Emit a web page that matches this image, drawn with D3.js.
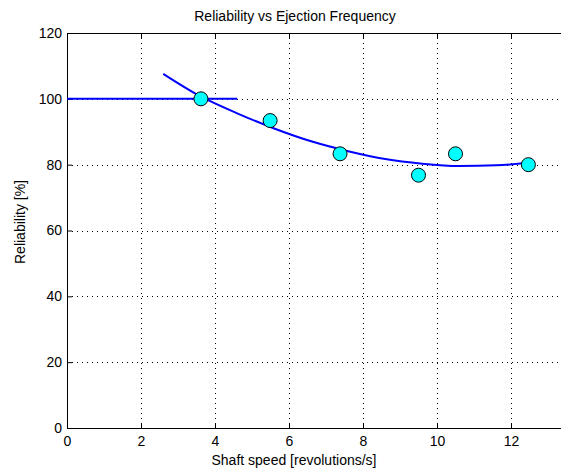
<!DOCTYPE html>
<html>
<head>
<meta charset="utf-8">
<script src="https://cdn.jsdelivr.net/npm/d3@7"></script>
<style>
  html, body { margin: 0; padding: 0; background: #fff; }
  svg { display: block; }
  text { font-family: "Liberation Sans", Arial, sans-serif; fill: #000; }
</style>
</head>
<body>
<svg id="chart" width="561" height="472"></svg>
<script>
// ---- data ----
const titleText = "Reliability vs Ejection Frequency";
const xLabel = "Shaft speed [revolutions/s]";
const yLabel = "Reliability [%]";

const xTicks = [0, 2, 4, 6, 8, 10, 12];
const yTicks = [0, 20, 40, 60, 80, 100, 120];

// measured points (shaft speed, reliability)
const speeds = [3.62, 5.49, 7.38, 9.5, 10.5, 12.47];
const reliability = [100, 93.4, 83.3, 76.8, 83.3, 80];

// fitted trend curve
const curveX = [2.6, 3.6, 4.6, 5.6, 6.6, 7.6, 8.6, 9.6, 10.6, 11.6, 12.5];
const curveY = [107.6, 100.8, 95.6, 91.0, 87.1, 84.1, 81.7, 80.3, 79.6, 79.8, 80.6];

// horizontal reference line at 100 %
const refX = [0, 4.6];
const refY = [100, 100];

// ---- layout ----
const svg = d3.select("#chart");
const mLeft = 67, mTop = 33, mBottom = 428, rightEdge = 561;

const x = d3.scaleLinear().domain([0, 12]).range([mLeft, mLeft + 12 * 37]);
const y = d3.scaleLinear().domain([0, 120]).range([mBottom, mTop]);

const g = svg.append("g");

// grid (dotted)
const grid = g.append("g").attr("stroke", "#000").attr("stroke-width", 1)
  .attr("stroke-dasharray", "1,4").attr("fill", "none");
xTicks.filter(d => d > 0).forEach(d => {
  const px = Math.round(x(d)) + 0.5;
  grid.append("line").attr("x1", px).attr("x2", px).attr("y1", mTop).attr("y2", mBottom);
});
yTicks.filter(d => d > 0 && d < 120).forEach(d => {
  const py = Math.round(y(d)) + 0.5;
  grid.append("line").attr("x1", mLeft).attr("x2", rightEdge).attr("y1", py).attr("y2", py);
});

// axes via d3 axis generators (inward ticks)
const xAxisBottom = d3.axisBottom(x).tickValues(xTicks).tickSize(-5).tickPadding(8).tickFormat(d3.format("d"));
const xAxisTop = d3.axisTop(x).tickValues(xTicks).tickSize(-5).tickFormat("");
const yAxisLeft = d3.axisLeft(y).tickValues(yTicks).tickSize(-5).tickPadding(5).tickFormat(d3.format("d"));

function styleAxis(sel) {
  sel.select(".domain").remove();
  sel.selectAll(".tick line").attr("stroke", "#000");
  sel.selectAll(".tick text").attr("font-size", 14).attr("font-family", "Liberation Sans, Arial, sans-serif").attr("fill", "#000");
}

g.append("g").attr("transform", `translate(0,${mBottom})`).call(xAxisBottom).call(styleAxis);
g.append("g").attr("transform", `translate(0,${mTop})`).call(xAxisTop).call(styleAxis);
g.append("g").attr("transform", `translate(${mLeft},0)`).call(yAxisLeft).call(styleAxis);

// axis lines
const ax = g.append("g").attr("stroke", "#000").attr("stroke-width", 1);
ax.append("line").attr("x1", mLeft + 0.5).attr("x2", mLeft + 0.5).attr("y1", mTop).attr("y2", mBottom + 0.5);
ax.append("line").attr("x1", mLeft).attr("x2", rightEdge).attr("y1", mBottom + 0.5).attr("y2", mBottom + 0.5);
ax.append("line").attr("x1", mLeft).attr("x2", rightEdge).attr("y1", mTop + 0.5).attr("y2", mTop + 0.5);

// reference line
const line = d3.line().x(d => x(d[0])).y(d => y(d[1]));
g.append("path").datum(d3.zip(refX, refY)).attr("d", line)
  .attr("fill", "none").attr("stroke", "#0000ff").attr("stroke-width", 2);

// trend curve
const smooth = d3.line().x(d => x(d[0])).y(d => y(d[1])).curve(d3.curveMonotoneX);
g.append("path").datum(d3.zip(curveX, curveY)).attr("d", smooth)
  .attr("fill", "none").attr("stroke", "#0000ff").attr("stroke-width", 2);

// markers
g.append("g").selectAll("circle").data(d3.zip(speeds, reliability)).join("circle")
  .attr("cx", d => x(d[0])).attr("cy", d => y(d[1])).attr("r", 7)
  .attr("fill", "#00ffff").attr("stroke", "#000").attr("stroke-width", 1);

// title and labels
svg.append("text").attr("x", 295).attr("y", 21).attr("text-anchor", "middle")
  .attr("font-size", 14).text(titleText);
svg.append("text").attr("x", 294).attr("y", 465).attr("text-anchor", "middle")
  .attr("font-size", 14).text(xLabel);
svg.append("text").attr("transform", "translate(25,222) rotate(-90)").attr("text-anchor", "middle")
  .attr("font-size", 14).text(yLabel);
</script>
</body>
</html>
